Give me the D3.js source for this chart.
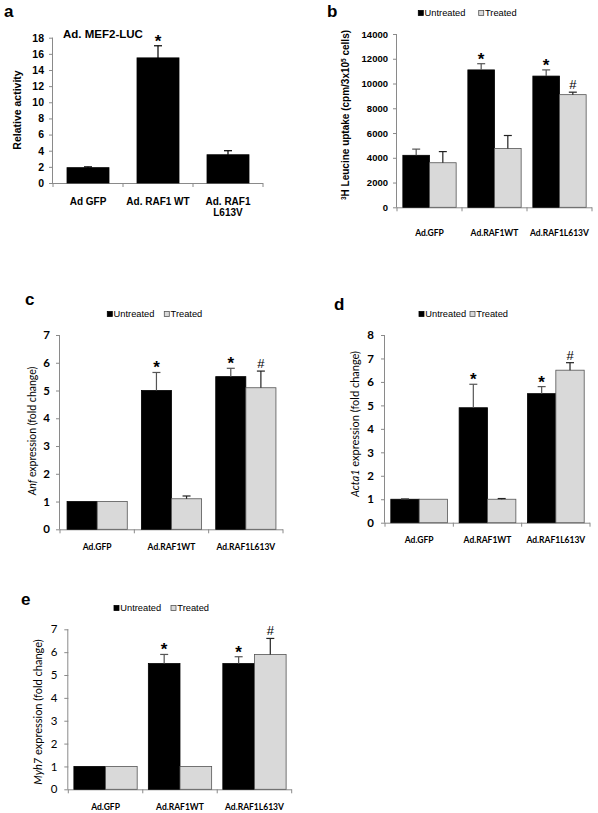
<!DOCTYPE html>
<html><head><meta charset="utf-8">
<script src="https://cdn.jsdelivr.net/npm/d3@7"></script>
<style>body{margin:0;background:#fff}svg{display:block}</style>
</head><body>
<svg id="c" width="598" height="813"></svg>
<script>
// ---------------- DATA ----------------
const catsA = ["Ad GFP", "Ad. RAF1 WT", "Ad. RAF1|L613V"];
const valsA = [1.9, 15.5, 3.5];
const errA = [0.1, 1.5, 0.5];
const sigA = ["", "*", ""];
const ticksA = [0, 2, 4, 6, 8, 10, 12, 14, 16, 18];

const cats = ["Ad.GFP", "Ad.RAF1WT", "Ad.RAF1L613V"];
const seriesNames = ["Untreated", "Treated"];

const bUntreated = [4200, 11100, 10600];
const bUntreatedErr = [500, 500, 500];
const bTreated = [3600, 4750, 9100];
const bTreatedErr = [900, 1050, 200];
const bTicks = [0, 2000, 4000, 6000, 8000, 10000, 12000, 14000];

const cUntreated = [1, 5.0, 5.5];
const cUntreatedErr = [0, 0.65, 0.3];
const cTreated = [1, 1.1, 5.1];
const cTreatedErr = [0, 0.1, 0.6];
const cTicks = [0, 1, 2, 3, 4, 5, 6, 7];

const dUntreated = [1, 4.9, 5.5];
const dUntreatedErr = [0.02, 1.0, 0.3];
const dTreated = [1, 1.0, 6.5];
const dTreatedErr = [0, 0.03, 0.32];
const dTicks = [0, 1, 2, 3, 4, 5, 6, 7, 8];

const eUntreated = [1, 5.5, 5.5];
const eUntreatedErr = [0, 0.4, 0.3];
const eTreated = [1, 1, 5.9];
const eTreatedErr = [0, 0, 0.7];
const eTicks = [0, 1, 2, 3, 4, 5, 6, 7];

const sigUntreated = ["", "*", "*"];
const sigTreated = ["", "", "#"];

// ---------------- DRAW ----------------
const svg = d3.select("#c");
const ARIAL = "Liberation Sans, Arial, sans-serif";
const CAL = "Lato, Carlito, sans-serif";
const AX = "#8a8a8a";

function panel(cfg) {
  const g = svg.append("g");
  const x = d3.scaleBand().domain(cfg.cats).range([cfg.x0, cfg.x1]).padding(0);
  const y = d3.scaleLinear().domain([0, cfg.ymax]).range([cfg.yb, cfg.yt]);
  const series = cfg.series;
  const inner = d3.scaleBand().domain(d3.range(series.length))
    .range([0, x.bandwidth() * cfg.groupFrac]).padding(0);
  const off = (x.bandwidth() * (1 - cfg.groupFrac)) / 2;

  // y axis
  const ya = g.append("g").attr("transform", `translate(${cfg.x0},0)`)
    .call(d3.axisLeft(y).tickValues(cfg.ticks).tickSize(4).tickPadding(cfg.tickPad || 5)
      .tickFormat(d3.format("d")));
  ya.select(".domain").attr("stroke", AX).attr("d", `M-0.5,${cfg.yb}V${cfg.yt}`);
  ya.selectAll(".tick line").attr("stroke", AX);
  ya.selectAll(".tick text").attr("fill", "#000")
    .style("font-family", cfg.tickFont).style("font-size", cfg.tickSize + "px")
    .style("font-weight", cfg.tickWeight);

  // x axis
  const xa = g.append("g").attr("transform", `translate(0,${cfg.yb})`)
    .call(d3.axisBottom(x).tickSize(0).tickFormat(""));
  xa.select(".domain").attr("stroke", AX).attr("d", `M${cfg.x0},0.5H${cfg.x1}`);
  const bounds = cfg.cats.map(c => x(c)).concat([cfg.x1]);
  xa.selectAll("line.bt").data(bounds).join("line").attr("class", "bt")
    .attr("x1", d => d).attr("x2", d => d).attr("y1", 0).attr("y2", 4).attr("stroke", AX);

  // bars
  series.forEach((s, si) => {
    const gs = g.append("g");
    gs.selectAll("rect").data(cfg.cats).join("rect")
      .attr("x", c => x(c) + off + inner(si))
      .attr("y", (c, i) => y(s.values[i]))
      .attr("width", inner.bandwidth())
      .attr("height", (c, i) => cfg.yb - y(s.values[i]))
      .attr("fill", s.fill).attr("stroke", s.stroke).attr("stroke-width", 0.8);
    // error bars
    cfg.cats.forEach((c, i) => {
      const e = s.err[i];
      if (!e) return;
      const cx = x(c) + off + inner(si) + inner.bandwidth() / 2;
      const ytop = y(s.values[i] + e);
      gs.append("line").attr("x1", cx).attr("x2", cx)
        .attr("y1", y(s.values[i])).attr("y2", ytop)
        .attr("stroke", s.errColor).attr("stroke-width", 1.2);
      gs.append("line").attr("x1", cx - 4).attr("x2", cx + 4)
        .attr("y1", ytop).attr("y2", ytop)
        .attr("stroke", s.errColor).attr("stroke-width", 1.2);
      const sg = s.sig[i];
      if (sg) {
        gs.append("text").attr("x", cx).attr("y", ytop - (sg === "*" ? -1 : 3))
          .attr("text-anchor", "middle")
          .style("font-family", ARIAL)
          .style("font-size", sg === "*" ? "17px" : "13px")
          .style("font-weight", sg === "*" ? "bold" : "normal")
          .text(sg);
      }
    });
  });

  // x labels
  cfg.cats.forEach(c => {
    const lines = c.split("|");
    const t = g.append("text").attr("x", x(c) + x.bandwidth() / 2).attr("y", cfg.xlabY)
      .attr("text-anchor", "middle")
      .style("font-family", cfg.xFont).style("font-size", cfg.xSize + "px")
      .style("font-weight", "bold");
    lines.forEach((l, li) => t.append("tspan").attr("x", x(c) + x.bandwidth() / 2)
      .attr("dy", li === 0 ? 0 : cfg.xSize * 1.05).text(l));
  });

  // y title
  const yt = g.append("text")
    .attr("transform", `translate(${cfg.ytX},${cfg.ytY}) rotate(-90)`)
    .attr("text-anchor", "middle")
    .style("font-family", cfg.ytFont).style("font-size", cfg.ytSize + "px")
    .style("font-weight", cfg.ytWeight);
  cfg.ytParts.forEach(p => {
    const ts = yt.append("tspan").text(p.t);
    if (p.i) ts.style("font-style", "italic");
    if (p.sup) ts.attr("baseline-shift", "super").style("font-size", (cfg.ytSize * 0.65) + "px");
  });

  // panel letter
  g.append("text").attr("x", cfg.letX).attr("y", cfg.letY).text(cfg.letter)
    .style("font-family", ARIAL).style("font-size", "17px").style("font-weight", "bold");

  // legend
  if (cfg.legend) {
    const L = cfg.legend;
    series.forEach((s, si) => {
      const lx = L.xs[si];
      g.append("rect").attr("x", lx).attr("y", L.y - 2.5).attr("width", 5).attr("height", 5)
        .attr("fill", s.fill).attr("stroke", si ? "#555" : "#000").attr("stroke-width", 0.8);
      g.append("text").attr("x", lx + 6.3).attr("y", L.y + 3.4).text(seriesNames[si])
        .style("font-family", ARIAL).style("font-size", "9.3px");
    });
  }
  return g;
}

function twoSeries(u, ue, t, te) {
  return [
    { values: u, err: ue, sig: sigUntreated, fill: "#000", stroke: "#000", errColor: "#555" },
    { values: t, err: te, sig: sigTreated, fill: "#d9d9d9", stroke: "#555", errColor: "#222" }
  ];
}

// Panel a
const pa = panel({
  cats: catsA, x0: 53, x1: 263, yb: 183, yt: 37.7, ymax: 18, ticks: ticksA,
  groupFrac: 0.6,
  series: [{ values: valsA, err: errA, sig: sigA, fill: "#000", stroke: "#000", errColor: "#000" }],
  tickFont: ARIAL, tickSize: 10.5, tickWeight: "bold", tickPad: 5,
  xFont: ARIAL, xSize: 10, xlabY: 205,
  ytX: 21, ytY: 110, ytFont: ARIAL, ytSize: 10.5, ytWeight: "bold",
  ytParts: [{ t: "Relative activity" }],
  letter: "a", letX: 4, letY: 17
});
pa.append("text").attr("x", 63).attr("y", 38).text("Ad. MEF2-LUC")
  .style("font-family", ARIAL).style("font-size", "11.5px").style("font-weight", "bold");

// Panel b
panel({
  cats: cats, x0: 397, x1: 592, yb: 207.3, yt: 34, ymax: 14000, ticks: bTicks,
  groupFrac: 0.82,
  series: twoSeries(bUntreated, bUntreatedErr, bTreated, bTreatedErr),
  tickFont: ARIAL, tickSize: 9.5, tickWeight: "bold", tickPad: 5,
  xFont: CAL, xSize: 8.5, xlabY: 236,
  ytX: 349, ytY: 115, ytFont: ARIAL, ytSize: 10, ytWeight: "bold",
  ytParts: [{ t: "3", sup: true }, { t: "H Leucine uptake (cpm/3x10" }, { t: "5", sup: true }, { t: " cells)" }],
  letter: "b", letX: 327, letY: 17,
  legend: { xs: [418.3, 478.7], y: 13 }
});

// Panel c
panel({
  cats: cats, x0: 60, x1: 283, yb: 529.3, yt: 335, ymax: 7, ticks: cTicks,
  groupFrac: 0.81,
  series: twoSeries(cUntreated, cUntreatedErr, cTreated, cTreatedErr),
  tickFont: CAL, tickSize: 11.5, tickWeight: "bold", tickPad: 6,
  xFont: CAL, xSize: 8.5, xlabY: 550,
  ytX: 36, ytY: 431, ytFont: CAL, ytSize: 10.5, ytWeight: "normal",
  ytParts: [{ t: "Anf", i: true }, { t: " expression (fold change)" }],
  letter: "c", letX: 25, letY: 305,
  legend: { xs: [107.3, 164.3], y: 314 }
});

// Panel d
panel({
  cats: cats, x0: 385, x1: 590, yb: 522.7, yt: 335, ymax: 8, ticks: dTicks,
  groupFrac: 0.83,
  series: twoSeries(dUntreated, dUntreatedErr, dTreated, dTreatedErr),
  tickFont: CAL, tickSize: 11.5, tickWeight: "bold", tickPad: 7,
  xFont: CAL, xSize: 8.5, xlabY: 543,
  ytX: 359, ytY: 424, ytFont: CAL, ytSize: 11, ytWeight: "normal",
  ytParts: [{ t: "Acta1", i: true }, { t: " expression (fold change)" }],
  letter: "d", letX: 334, letY: 310,
  legend: { xs: [419, 470], y: 314 }
});

// Panel e
panel({
  cats: cats, x0: 68.3, x1: 291.7, yb: 789.3, yt: 629.3, ymax: 7, ticks: eTicks,
  groupFrac: 0.85,
  series: twoSeries(eUntreated, eUntreatedErr, eTreated, eTreatedErr),
  tickFont: CAL, tickSize: 11.5, tickWeight: "normal", tickPad: 7,
  xFont: CAL, xSize: 8.5, xlabY: 810,
  ytX: 42, ytY: 712, ytFont: CAL, ytSize: 11, ytWeight: "normal",
  ytParts: [{ t: "Myh7", i: true }, { t: " expression (fold change)" }],
  letter: "e", letX: 21, letY: 605,
  legend: { xs: [114, 171], y: 608 }
});
</script>
</body></html>
